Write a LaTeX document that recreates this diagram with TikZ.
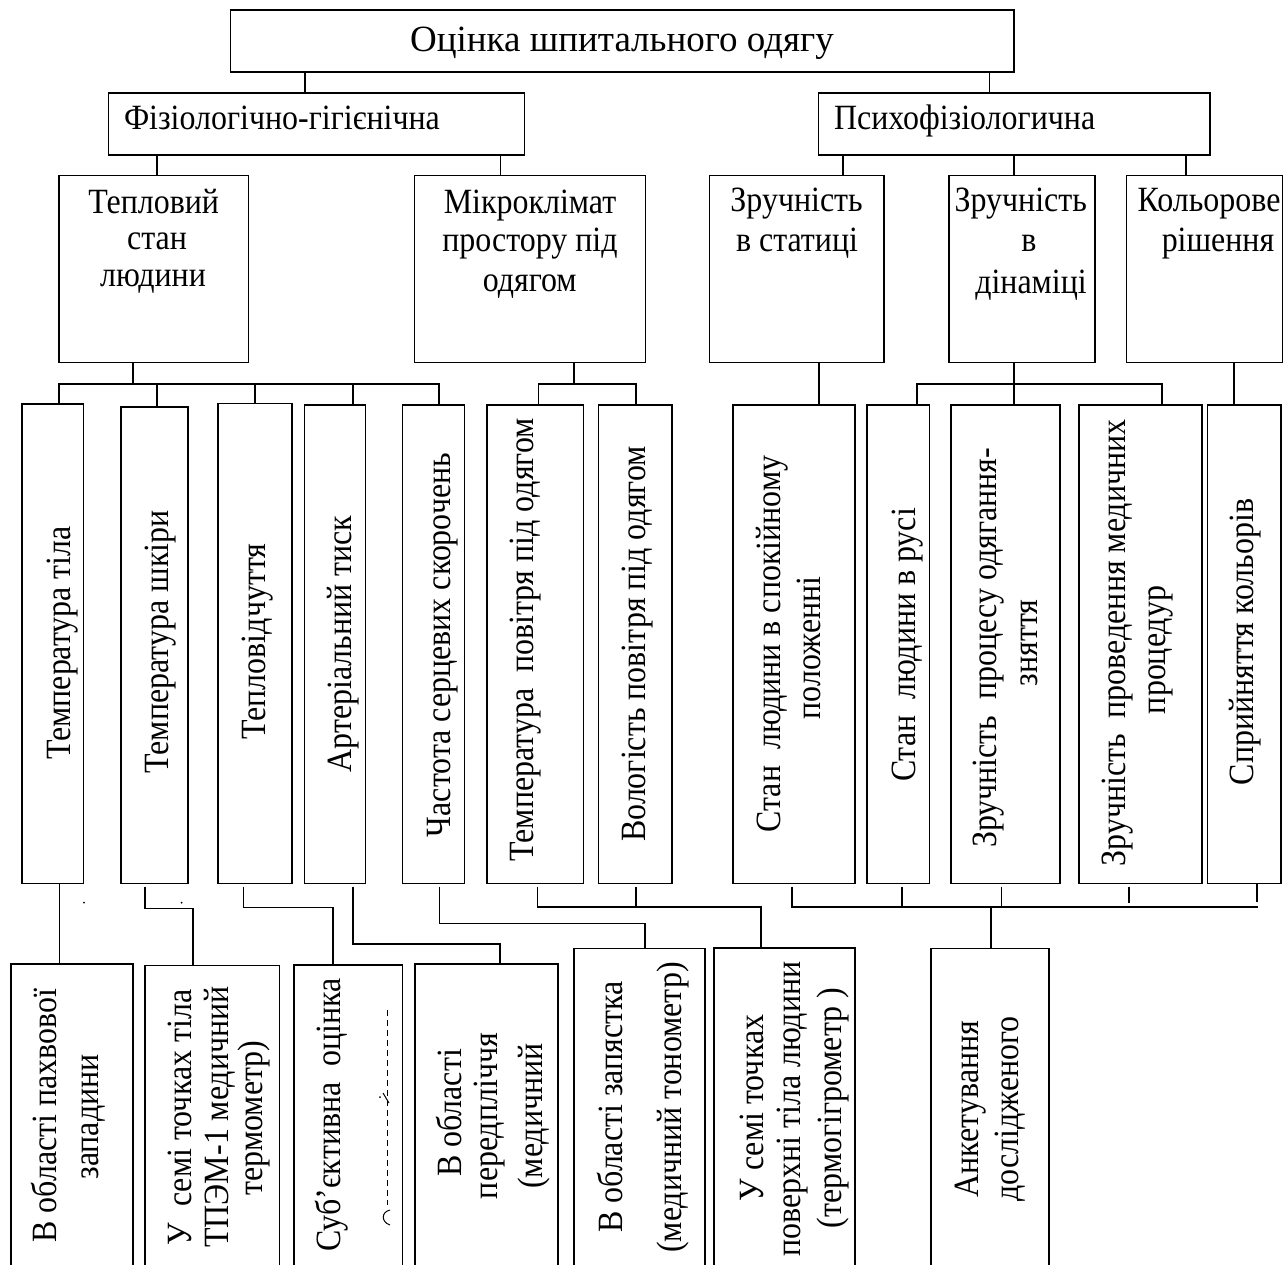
\documentclass[tikz,border=0pt]{standalone}
\usepackage{fontspec}
\setmainfont{Liberation Serif}[FakeStretch=0.9]
\newfontfamily\ttlfont{Liberation Serif}
\newcommand{\mybox}[5]{\node[box,anchor=north west,minimum width={(#4)-(#2)},minimum height={(#5)-(#3)}] (#1) at (#2,#3) {};}
\newcommand{\htxt}[4]{\node[hz] (#1) at (#2,#3) {#4};}
\newcommand{\vtxt}[4]{\node[vt] (#1) at ({#2+2.5},#3) {#4};}
\begin{document}
\begin{tikzpicture}[x=1pt,y=-1pt,
  box/.style={draw, line width=1.6pt, inner sep=0pt, outer sep=0pt, rectangle},
  ln/.style={line width=1.6pt},
  tx/.style={inner sep=0pt, outer sep=0pt, font=\fontsize{35.5}{40}\selectfont},
  vt/.style={tx, rotate=90, anchor=base},
  hz/.style={tx, anchor=base}]
\useasboundingbox (0,0) rectangle (1284,1265);
\fill[white] (0,0) rectangle (1284,1265);
\clip (0,0) rectangle (1284,1265);

% ---- boxes
\mybox{top}{230.6}{10}{1014}{72}
\mybox{fiz}{108.6}{93.3}{524.4}{155}
\mybox{psy}{818.3}{93.3}{1210}{155}
\mybox{tep}{59}{175.7}{248.3}{362.3}
\mybox{mik}{414.6}{175.7}{645.6}{362.3}
\mybox{stat}{709.5}{175.7}{883.7}{362.3}
\mybox{din}{949}{175.7}{1094.7}{362.3}
\mybox{kol}{1126.3}{175.7}{1282.5}{362.3}

\mybox{m1}{21.7}{404}{83.3}{883.3}
\mybox{m2}{120.7}{406.7}{187.7}{883.3}
\mybox{m3}{218}{403.3}{291.7}{883.3}
\mybox{m4}{304.3}{404.7}{365.3}{883.3}
\mybox{m5}{402.3}{404.7}{464.3}{883.3}
\mybox{m6}{486.7}{404.7}{583.3}{883.3}
\mybox{m7}{598.3}{404.7}{671.7}{883.3}
\mybox{m8}{732.7}{404.7}{855}{883.3}
\mybox{m9}{866.7}{404.7}{929.3}{883.3}
\mybox{m10}{950.7}{404.7}{1060}{883.3}
\mybox{m11}{1079}{404.7}{1201.7}{883.3}
\mybox{m12}{1207.3}{404.7}{1280.7}{883.3}

\mybox{bA}{10.7}{964}{132.7}{1290}
\mybox{bB}{145}{965.3}{279.3}{1290}
\mybox{bC}{294}{965}{402.3}{1290}
\mybox{bD}{414.7}{964}{557.7}{1290}
\mybox{bE}{574}{948.3}{705}{1290}
\mybox{bF}{714}{948}{855}{1290}
\mybox{bG}{930.7}{948.3}{1049}{1290}

% ---- connectors, upper levels
\draw[ln] (304.7,0 |- top.south) -- (304.7,0 |- fiz.north);
\draw[ln] (989.6,0 |- top.south) -- (989.6,0 |- psy.north);
\draw[ln] (157,0 |- fiz.south) -- (157,0 |- tep.north);
\draw[ln] (500.4,0 |- fiz.south) -- (500.4,0 |- mik.north);
\draw[ln] (842.8,0 |- psy.south) -- (842.8,0 |- stat.north);
\draw[ln] (1013.7,0 |- psy.south) -- (1013.7,0 |- din.north);
\draw[ln] (1186,0 |- psy.south) -- (1186,0 |- kol.north);

\coordinate (bar1) at (133,384);
\draw[ln] (bar1 |- tep.south) -- (bar1);
\draw[ln] (59,0 |- m1.north) |- (bar1) -| (439,0 |- m5.north);
\draw[ln] (157,0 |- bar1) -- (157,0 |- m2.north);
\draw[ln] (255,0 |- bar1) -- (255,0 |- m3.north);
\draw[ln] (353,0 |- bar1) -- (353,0 |- m4.north);

\coordinate (bar2) at (574,384);
\draw[ln] (bar2 |- mik.south) -- (bar2);
\draw[ln] (538.3,0 |- m6.north) |- (bar2) -| (636,0 |- m7.north);

\draw[ln] (819,0 |- stat.south) -- (819,0 |- m8.north);

\coordinate (bar3) at (1014,384);
\draw[ln] (bar3 |- din.south) -- (bar3);
\draw[ln] (916.7,0 |- m9.north) |- (bar3) -| (1162,0 |- m11.north);
\draw[ln] (bar3) -- (bar3 |- m10.north);

\draw[ln] (1234,0 |- kol.south) -- (1234,0 |- m12.north);

% ---- connectors, lower level
\draw[ln] (59.3,0 |- m1.south) -- (59.3,0 |- bA.north);
\draw[ln] (145,0 |- m2.south) ++(0,3.3) |- (192.7,908.3) -- (192.7,0 |- bB.north);
\draw[ln] (243.3,0 |- m3.south) ++(0,3.3) |- (332.7,907.3) -- (332.7,0 |- bC.north);
\draw[ln] (353,0 |- m4.south) ++(0,3.3) |- (500,944) -- (500,0 |- bD.north);
\draw[ln] (439.3,0 |- m5.south) ++(0,3.3) |- (645,923.5) -- (645,0 |- bE.north);
\draw[ln] (537.3,0 |- m6.south) ++(0,3.3) |- (760.7,906.7) -- (760.7,0 |- bF.north);
\draw[ln] (636,0 |- m7.south) ++(0,3.3) -- (636,906.7);
\coordinate (bar4) at (991,906.7);
\draw[ln] (792,0 |- m8.south) ++(0,3.3) |- (1257.7,906.7);
\draw[ln] (901.7,0 |- m9.south) ++(0,3.3) -- (901.7,906.7);
\draw[ln] (1001.3,0 |- m10.south) ++(0,3.3) -- (1001.3,906.7);
\draw[ln] (1128.7,0 |- m11.south) ++(0,3.3) -- (1128.7,903.3);
\draw[ln] (1256.7,0 |- m12.south) -- (1256.7,901.7);
\draw[ln] (bar4) -- (bar4 |- bG.north);

\fill (84,902.7) circle (1pt);
\fill (181.7,902.7) circle (1pt);

% ---- horizontal texts
\node[hz, font=\ttlfont\fontsize{37}{42}\selectfont] (ttop) at (622,51.7) {Оцінка шпитального одягу};
\node[tx, anchor=base west] (tfiz) at (124,130) {Фізіологічно-гігієнічна};
\node[tx, anchor=base west] (tpsy) at (834,130) {Психофізіологична};
\htxt{tep1}{153.7}{213.3}{Тепловий}
\htxt{tep2}{157}{250}{стан}
\htxt{tep3}{153}{286.7}{людини}
\htxt{mik1}{530}{213.3}{Мікроклімат}
\htxt{mik2}{530}{251.7}{простору під}
\htxt{mik3}{529.7}{291}{одягом}
\htxt{st1}{796.6}{211.7}{Зручність}
\htxt{st2}{797}{251.7}{в статиці}
\htxt{dn1}{1020.7}{211.7}{Зручність}
\htxt{dn2}{1029}{251.7}{в}
\htxt{dn3}{1031}{293.3}{дінаміці}
\htxt{kl1}{1209}{211.7}{Кольорове}
\htxt{kl2}{1218}{251.7}{рішення}

% ---- vertical texts
\vtxt{v1}{68}{643}{Температура тіла}
\vtxt{v2}{166}{642}{Температура шкіри}
\vtxt{v3}{262.7}{641.7}{Тепловідчуття}
\vtxt{v4}{349.3}{644}{Артеріальний тиск}
\vtxt{v5}{447.7}{645}{Частота серцевих скорочень}
\vtxt{v6}{531}{640}{Температура~ повітря під одягом}
\vtxt{v7}{642.7}{644}{Вологість повітря під одягом}
\vtxt{v8a}{777.7}{644}{Стан~ людини в спокійному}
\vtxt{v8b}{818}{648}{положенні}
\vtxt{v9}{912.7}{645}{Стан~ людини в русі}
\vtxt{v10a}{994.3}{648}{Зручність~ процесу одягання-}
\vtxt{v10b}{1034.5}{643}{зняття}
\vtxt{v11a}{1122.7}{643}{Зручність~ проведення медичних}
\vtxt{v11b}{1162.8}{650}{процедур}
\vtxt{v12}{1251}{642}{Сприйняття кольорів}

\vtxt{wA1}{54}{1115.6}{В області пахвової}
\vtxt{wA2}{96}{1117}{западини}
\vtxt{wB1}{189}{1117.5}{У~ семі точках тіла}
\vtxt{wB2}{226}{1117}{ТПЭМ-1 медичний}
\vtxt{wB3}{259.5}{1118}{термометр)}
\vtxt{wC1}{337.7}{1115}{Суб’єктивна~ оцінка}
\vtxt{wD1}{459}{1113}{В області}
\vtxt{wD2}{494.5}{1116}{передпліччя}
\vtxt{wD3}{540}{1116}{(медичний}
\vtxt{wE1}{620}{1107}{В області запястка}
\vtxt{wE2}{678.7}{1107.5}{(медичний тонометр)}
\vtxt{wF1}{761}{1108}{У семі точках}
\vtxt{wF2}{797.6}{1109}{поверхні тіла людини}
\vtxt{wF3}{839}{1108}{(термогігрометр )}
\vtxt{wG1}{976}{1109}{Анкетування}
\vtxt{wG2}{1016}{1109}{дослідженого}

% ---- faint second line in box C
\draw[line width=0.6pt, dash pattern=on 6pt off 4pt] (387,1010) -- (387,1205);
\draw[line width=1pt] (390,1210) .. controls (381,1212) and (381,1222) .. (390,1225);
\draw[line width=1pt] (383,1093) -- (389,1103);
\fill (380,1097) circle (1pt);
\end{tikzpicture}
\end{document}
